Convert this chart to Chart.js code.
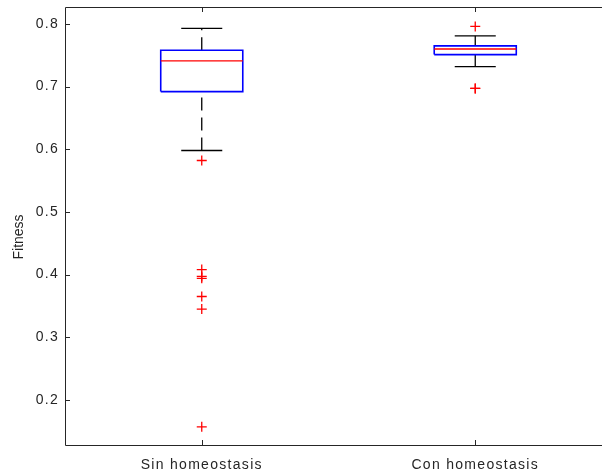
<!DOCTYPE html>
<html>
<head>
<meta charset="utf-8">
<script src="https://cdn.jsdelivr.net/npm/chart.js@4/dist/chart.umd.min.js"></script>
<style>
  html, body { margin: 0; padding: 0; overflow: hidden; background: #fff; }
  #wrap { width: 620px; height: 475px; }
</style>
</head>
<body>
<div id="wrap"><canvas id="c" width="620" height="475"></canvas></div>
<script>
// Box plot summary per group
const categories = ['Sin homeostasis', 'Con homeostasis'];
const upperWhisker = [0.793, 0.781];
const upperQuartile = [0.758, 0.765];
const medians = [0.741, 0.760];
const lowerQuartile = [0.692, 0.751];
const lowerWhisker = [0.598, 0.732];
const outliers = [
  [0.582, 0.408, 0.397, 0.394, 0.365, 0.345, 0.157],
  [0.796, 0.697, 0.697]
];
const yTickValues = [0.2, 0.3, 0.4, 0.5, 0.6, 0.7, 0.8];
const yAxisTitle = 'Fitness';

const BOX_HALF = 0.15;
const CAP_HALF = 0.075;
const INK = '#262626';
const FONT = 'Liberation Sans, Arial, Helvetica, sans-serif';

function segment(points, color, width, dash) {
  return {
    type: 'scatter',
    data: points,
    showLine: true,
    borderColor: color,
    borderWidth: width,
    borderDash: dash || [],
    pointRadius: 0,
    pointHoverRadius: 0,
    fill: false
  };
}

// Earlier datasets are painted on top of later ones
const outlierSet = {
  type: 'scatter',
  data: outliers.flatMap((vals, i) => vals.map(v => ({ x: i + 1, y: v }))),
  pointStyle: 'cross',
  pointRadius: 5,
  pointHoverRadius: 5,
  borderColor: '#ff0000',
  borderWidth: 1.3,
  showLine: false
};

const medianSets = [], boxSets = [], capSets = [], whiskerSets = [];
categories.forEach((_, i) => {
  const c = i + 1;
  medianSets.push(segment([{ x: c - BOX_HALF, y: medians[i] }, { x: c + BOX_HALF, y: medians[i] }], '#ff0000', 1.3));
  boxSets.push(segment([
    { x: c - BOX_HALF, y: lowerQuartile[i] },
    { x: c + BOX_HALF, y: lowerQuartile[i] },
    { x: c + BOX_HALF, y: upperQuartile[i] },
    { x: c - BOX_HALF, y: upperQuartile[i] },
    { x: c - BOX_HALF, y: lowerQuartile[i] }
  ], '#0000ff', 1.6));
  capSets.push(segment([{ x: c - CAP_HALF, y: upperWhisker[i] }, { x: c + CAP_HALF, y: upperWhisker[i] }], '#000000', 1.3));
  capSets.push(segment([{ x: c - CAP_HALF, y: lowerWhisker[i] }, { x: c + CAP_HALF, y: lowerWhisker[i] }], '#000000', 1.3));
  whiskerSets.push(segment([{ x: c, y: upperQuartile[i] }, { x: c, y: upperWhisker[i] }], '#000000', 1.3, [13, 7]));
  whiskerSets.push(segment([{ x: c, y: lowerWhisker[i] }, { x: c, y: lowerQuartile[i] }], '#000000', 1.3, [13, 7]));
});

// Axes frame with inward tick marks on all four sides, plus the y-axis title
const framePlugin = {
  id: 'frame',
  beforeDraw(chart) {
    chart.ctx.letterSpacing = '1.3px';
  },
  afterDraw(chart) {
    const { ctx, chartArea: a, scales: { x, y } } = chart;
    ctx.save();
    ctx.letterSpacing = '0px';
    ctx.strokeStyle = INK;
    ctx.lineWidth = 1;
    ctx.beginPath();
    ctx.rect(a.left + 0.5, a.top + 0.5, a.right - a.left, a.bottom - a.top);
    y.ticks.forEach(t => {
      const py = Math.round(y.getPixelForValue(t.value)) + 0.5;
      ctx.moveTo(a.left, py); ctx.lineTo(a.left + 5, py);
      ctx.moveTo(a.right, py); ctx.lineTo(a.right - 5, py);
    });
    x.ticks.forEach(t => {
      const px = Math.round(x.getPixelForValue(t.value)) + 0.5;
      ctx.moveTo(px, a.bottom); ctx.lineTo(px, a.bottom - 5);
      ctx.moveTo(px, a.top); ctx.lineTo(px, a.top + 5);
    });
    ctx.stroke();

    // rotated y-axis title beside the tick labels
    ctx.translate(y.left + 19, y.getPixelForValue(0.46));
    ctx.rotate(-Math.PI / 2);
    ctx.fillStyle = INK;
    ctx.font = '14px ' + FONT;
    ctx.textAlign = 'center';
    ctx.textBaseline = 'middle';
    ctx.fillText(yAxisTitle, 0, 0);
    ctx.restore();
  }
};

new Chart(document.getElementById('c'), {
  type: 'scatter',
  data: {
    datasets: [outlierSet, ...medianSets, ...boxSets, ...capSets, ...whiskerSets]
  },
  options: {
    responsive: false,
    animation: false,
    events: [],
    layout: { padding: { top: 7, right: 8, left: 0, bottom: 0 } },
    plugins: { legend: { display: false }, tooltip: { enabled: false } },
    scales: {
      x: {
        type: 'linear',
        min: 0.5,
        max: 2.5,
        grid: { display: false, drawTicks: false },
        border: { display: false },
        afterBuildTicks: s => { s.ticks = categories.map((_, i) => ({ value: i + 1 })); },
        afterFit: s => { s.height = 30; s.paddingLeft = 0; s.paddingRight = 0; },
        ticks: {
          padding: 12,
          color: INK,
          maxRotation: 0,
          font: { family: FONT, size: 14 },
          callback: v => categories[Math.round(v) - 1]
        }
      },
      y: {
        type: 'linear',
        min: 0.128,
        max: 0.827,
        grid: { display: false, drawTicks: false },
        border: { display: false },
        afterBuildTicks: s => { s.ticks = yTickValues.map(v => ({ value: v })); },
        afterFit: s => { s.width = 65; s.paddingTop = 0; s.paddingBottom = 0; },
        ticks: {
          padding: 6,
          color: INK,
          font: { family: FONT, size: 14 },
          callback: v => v.toFixed(1)
        },
        title: { display: false }
      }
    }
  },
  plugins: [framePlugin]
});
</script>
</body>
</html>
